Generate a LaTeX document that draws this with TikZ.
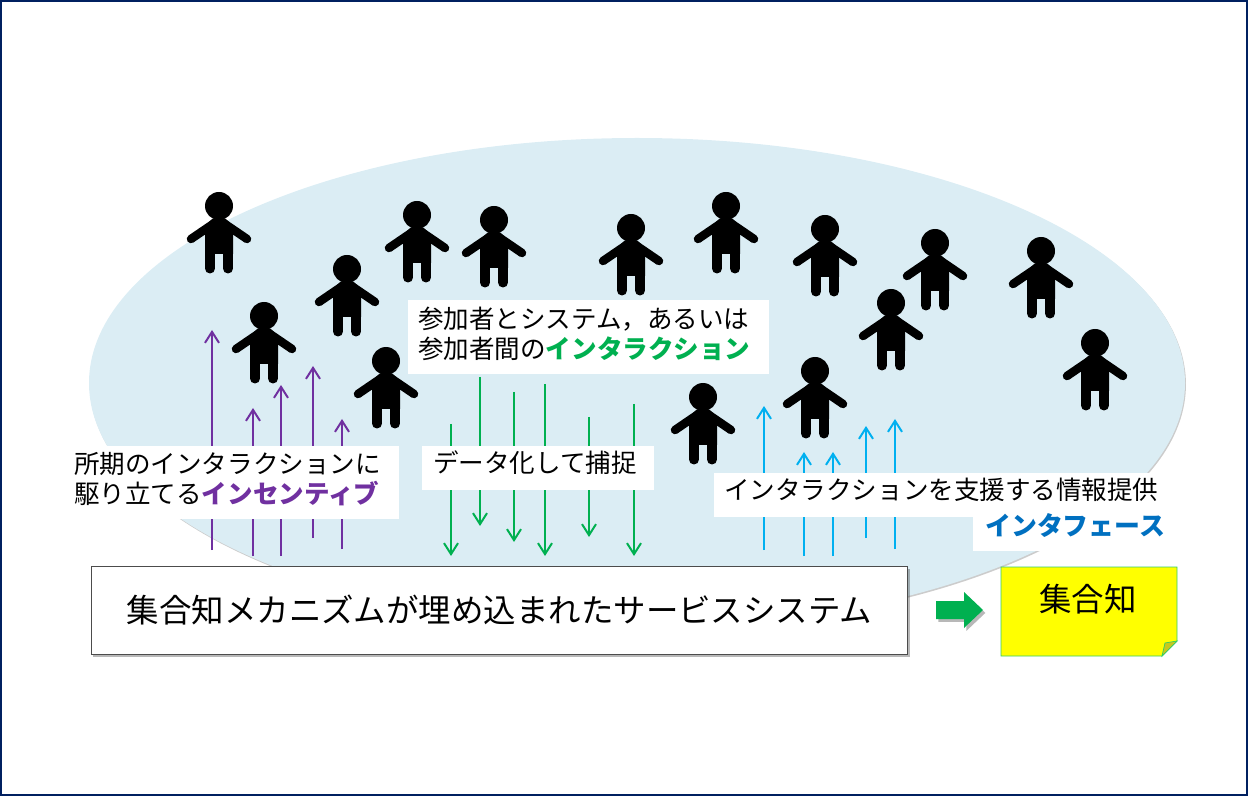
\documentclass[tikz,border=0pt]{standalone}
\usepackage{fontspec}
\setmainfont{Noto Sans CJK JP}
\usetikzlibrary{arrows.meta}
\usetikzlibrary{shadows}
\definecolor{framenavy}{RGB}{0, 32, 96}
\definecolor{lakeblue}{RGB}{219, 237, 244}
\definecolor{grapepurple}{RGB}{112, 48, 160}
\definecolor{leafgreen}{RGB}{0, 176, 80}
\definecolor{skyblue}{RGB}{0, 176, 240}
\definecolor{deepblue}{RGB}{0, 112, 192}
\definecolor{notegreen}{RGB}{51, 204, 102}
\definecolor{noteyellow}{RGB}{255, 255, 0}
\definecolor{notefold}{RGB}{200, 200, 30}
\tikzset{
    softshadow/.style={drop shadow={shadow xshift=2pt, shadow yshift=-2.5pt, fill=black, opacity=0.28}},
    faintshadow/.style={drop shadow={shadow xshift=0.8pt, shadow yshift=-1.2pt, fill=black, opacity=0.2}},
    upline/.style={line width=1.7pt, -{Straight Barb[length=0.33cm, width=0.42cm]}},
    captiontext/.style={anchor=west, inner sep=0pt, align=left,
        font=\fontsize{21.8pt}{25.6pt}\selectfont},
    person/.pic={
        \fill[black] (0,0) circle (14);
        \draw[black, line width=0.255cm, line cap=round, line join=round] (-28,33) -- (-6,18) -- (6,18) -- (28,33);
        \fill[black] (-14,21) -- (-7,13) -- (7,13) -- (14,21) -- (14,48) -- (-14,48) -- cycle;
        \draw[black, line width=0.3cm, line cap=round] (-9,40) -- (-9,62.5);
        \draw[black, line width=0.3cm, line cap=round] ( 9,40) -- ( 9,62.5);
    }
}
\begin{document}
\begin{tikzpicture}[x=0.03cm, y=-0.03cm]
    \useasboundingbox (0,0) rectangle (1248,796);
    \draw[framenavy, line width=1.7pt] (1,1) rectangle (1247,795);
    \fill[lakeblue, faintshadow] (637,383) ellipse (548 and 245);

    \foreach \px/\ptop/\pbot in {212/330/550, 253/408/556, 281/385/556, 313/366/538, 342/419/549}
        \draw[upline, grapepurple] (\px,\pbot) -- (\px,\ptop);
    \foreach \px/\ptop/\pbot in {451/424/556, 480/377/526, 514/392/542, 545/384/556, 589/417/537, 634/404/556}
        \draw[upline, leafgreen] (\px,\ptop) -- (\px,\pbot);
    \foreach \px/\ptop/\pbot in {764/406/550, 804/452/556, 833/452/556, 866/426/538, 895/419/549}
        \draw[upline, skyblue] (\px,\pbot) -- (\px,\ptop);

    \foreach \px/\py in {219/206, 417/215, 494/220, 631/228, 726/206, 825/229, 935/243, 1041/251,
                         347/269, 264/316, 891/303, 386/361, 1095/343, 815/371, 703/397}
        \pic at (\px,\py) {person};

    \foreach \xa/\ya/\xb/\yb in {65/446/399/519, 408/300/769/374, 422/446/654/490, 714/473/1170/517, 973/517/1170/551}
        \fill[white] (\xa,\ya) rectangle (\xb,\yb);

    \node[captiontext] (incentive) at (74,479)
        {所期のインタラクションに\\駆り立てる\textcolor{grapepurple}{\textbf{インセンティブ}}};
    \node[captiontext] (interaction) at (418,334)
        {参加者とシステム，あるいは\\参加者間の\textcolor{leafgreen}{\textbf{インタラクション}}};
    \node[captiontext] (capture) at (433,463) {データ化して捕捉};
    \node[captiontext] (support) at (724,490)
        {インタラクションを支援する情報提供};
    \node[captiontext, font=\fontsize{22.1pt}{25.6pt}\selectfont] (interface) at (985,526)
        {\textcolor{deepblue}{\textbf{インタフェース}}};

    \node[draw=black!70, fill=white, softshadow, line width=0.8pt, minimum width=24.5cm, minimum height=2.64cm,
        font=\fontsize{27.7pt}{32pt}\selectfont] (service) at (499.5,610)
        {集合知メカニズムが埋め込まれたサービスシステム};

    \fill[leafgreen, softshadow] (936,601) -- (964,601) -- (964,592) -- (983,610) -- (964,628) -- (964,619) -- (936,619) -- cycle;

    \filldraw[notegreen, fill=noteyellow, line width=0.8pt] (1001,567) -- (1177,567) -- (1177,641) -- (1162,656) -- (1001,656) -- cycle;
    \filldraw[notegreen, fill=notefold, line width=0.6pt] (1177,641) -- (1165,643) -- (1162,656) -- cycle;
    \node[font=\fontsize{27.7pt}{32pt}\selectfont] (collective) at (1088,599) {集合知};
\end{tikzpicture}
\end{document}
